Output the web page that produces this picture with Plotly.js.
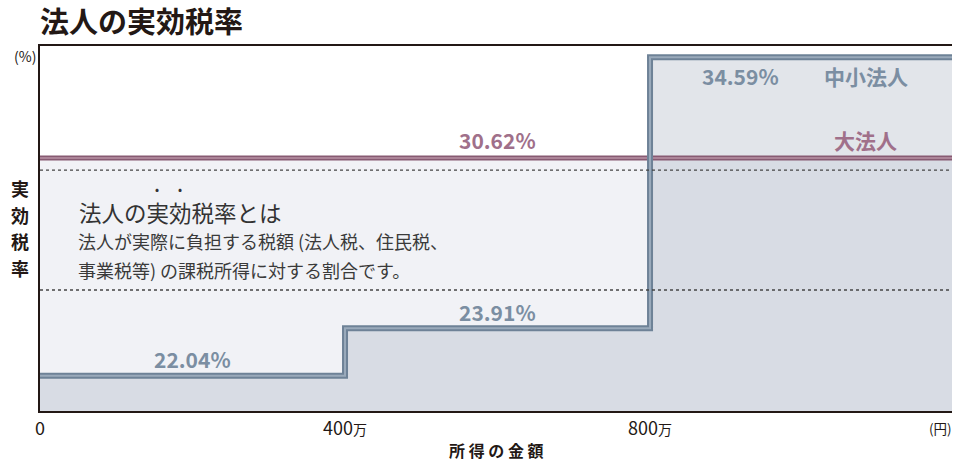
<!DOCTYPE html>
<html><head><meta charset="utf-8">
<script src="https://cdn.plot.ly/plotly-3.0.1.min.js"></script>
<style>html,body{margin:0;padding:0;background:#fff}#chart{width:953px;height:462px}</style>
</head><body><div id="chart"></div>
<script>
// ---- data (income in 万円, rates in %) ----
const thresholds = [0, 400, 800];
const smeRates = [22.04, 23.91, 34.59];
const largeRate = 30.62;
const smeLabel = '中小法人';
const largeLabel = '大法人';
const tickVals = [0, 400, 800];
const tickLabels = ['0', '400<span style="font-size:14px">万</span>', '800<span style="font-size:14px">万</span>'];
const yLabelChars = ['実', '効', '税', '率'];
const noteTitle = '法人の実効税率とは';
const noteLines = ['法人が実際に負担する税額 (法人税、住民税、', '事業税等) の課税所得に対する割合です。'];

const xRange = [0, 1196];
const yRange = [20.65, 35.03];
const xEnd = 1400;
const FONT = '"Noto Sans CJK JP", "Noto Sans", sans-serif';
const BLUE_OUT = '#6e8297', BLUE_IN = '#9aaabb', BLUE_TXT = '#7b8ea2';
const PUR_OUT = '#875a72', PUR_IN = '#b893a6', PUR_TXT = '#a0708a';

const stepX = thresholds.concat([xEnd]);
const stepY = smeRates.concat([smeRates[smeRates.length - 1]]);
const flatX = [xRange[0], xEnd];
const flatY = [largeRate, largeRate];

const traces = [
  {x: flatX, y: flatY, mode: 'lines', line: {width: 0}, fill: 'tozeroy', fillcolor: '#f1f2f6', hoverinfo: 'skip'},
  {x: stepX, y: stepY, mode: 'lines', line: {width: 0, shape: 'hv'}, fill: 'tozeroy', fillcolor: 'rgba(158,168,185,0.3)', hoverinfo: 'skip'},
  {x: flatX, y: flatY, mode: 'lines', line: {width: 5, color: PUR_OUT}, hoverinfo: 'skip'},
  {x: flatX, y: flatY, mode: 'lines', line: {width: 1.5, color: PUR_IN}, hoverinfo: 'skip'},
  {x: stepX, y: stepY, mode: 'lines', line: {width: 6, color: BLUE_OUT, shape: 'hv'}, hoverinfo: 'skip'},
  {x: stepX, y: stepY, mode: 'lines', line: {width: 2, color: BLUE_IN, shape: 'hv'}, hoverinfo: 'skip'}
];

const shapes = [];
// dotted guide lines
[0.660, 0.3315].forEach(py => shapes.push({type: 'line', xref: 'paper', yref: 'paper', x0: 0, x1: 1, y0: py, y1: py,
  line: {color: '#444', width: 1.4, dash: 'dot'}, layer: 'above'}));
// dashed verticals at thresholds
for (let i = 1; i < thresholds.length; i++) {
  shapes.push({type: 'line', xref: 'x', yref: 'y', x0: thresholds[i], x1: thresholds[i], y0: yRange[0], y1: smeRates[i - 1],
    line: {color: '#333', width: 1.5, dash: 'dash'}, layer: 'below'});
}

const ann = [];
const labelFont = (c) => ({family: FONT, size: 21, color: c, weight: 'bold'});
// rate labels
ann.push({x: (thresholds[0] + thresholds[1]) / 2, y: smeRates[0], text: smeRates[0].toFixed(2) + '%', showarrow: false, yanchor: 'middle', yshift: 17, font: labelFont(BLUE_TXT)});
ann.push({x: (thresholds[1] + thresholds[2]) / 2, y: smeRates[1], text: smeRates[1].toFixed(2) + '%', showarrow: false, yanchor: 'middle', yshift: 16, font: labelFont(BLUE_TXT)});
ann.push({x: 918, y: smeRates[2], text: smeRates[2].toFixed(2) + '%', showarrow: false, yanchor: 'middle', yshift: -19, font: labelFont(BLUE_TXT)});
ann.push({x: 1083, y: smeRates[2], text: smeLabel, showarrow: false, yanchor: 'middle', yshift: -19, font: labelFont(BLUE_TXT)});
ann.push({x: 600, y: largeRate, text: largeRate.toFixed(2) + '%', showarrow: false, yanchor: 'middle', yshift: 18, font: labelFont(PUR_TXT)});
ann.push({x: 1083, y: largeRate, text: largeLabel, showarrow: false, yanchor: 'middle', yshift: 18, font: labelFont(PUR_TXT)});

// explanation note
const pxX = (px) => (px - 40) / 912;
const pxY = (py) => (411 - py) / 365;
ann.push({xref: 'paper', yref: 'paper', x: pxX(77), y: pxY(212), xanchor: 'left', yanchor: 'middle', text: noteTitle, showarrow: false, font: {family: FONT, size: 22.5, color: '#333'}});
ann.push({xref: 'paper', yref: 'paper', x: pxX(157), y: pxY(189), xanchor: 'center', yanchor: 'middle', text: '•', showarrow: false, font: {family: FONT, size: 12, color: '#333'}});
ann.push({xref: 'paper', yref: 'paper', x: pxX(180), y: pxY(189), xanchor: 'center', yanchor: 'middle', text: '•', showarrow: false, font: {family: FONT, size: 12, color: '#333'}});
noteLines.forEach((t, i) => ann.push({xref: 'paper', yref: 'paper', x: pxX(76), y: pxY(241 + 29 * i), xanchor: 'left', yanchor: 'middle', text: t, showarrow: false, font: {family: FONT, size: 18, color: '#3a3a3a'}}));

// vertical y label
yLabelChars.forEach((c, i) => ann.push({xref: 'paper', yref: 'paper', x: 0, xshift: -20, y: pxY(188 + 26.7 * i), xanchor: 'center', yanchor: 'middle', text: c, showarrow: false, font: {family: FONT, size: 18, color: '#231815', weight: 'bold'}}));
// (%) and (円)
ann.push({xref: 'paper', yref: 'paper', x: 0, xshift: -2, y: 1, yshift: -10, xanchor: 'right', yanchor: 'middle', text: '(%)', showarrow: false, font: {family: FONT, size: 14, color: '#231815'}});
ann.push({xref: 'paper', yref: 'paper', x: 1, xshift: -12, y: 0, yshift: -17, xanchor: 'center', yanchor: 'middle', text: '(円)', showarrow: false, font: {family: FONT, size: 13.5, color: '#231815'}});
// x axis title
ann.push({xref: 'paper', yref: 'paper', x: 0.5, y: 0, yshift: -39, xanchor: 'center', yanchor: 'middle', text: '所 得 の 金 額', showarrow: false, font: {family: FONT, size: 16, color: '#231815', weight: 'bold'}});

const layout = {
  width: 953, height: 462,
  margin: {l: 40, r: 1, t: 46, b: 51},
  paper_bgcolor: '#fff', plot_bgcolor: '#fff',
  showlegend: false,
  title: {text: '法人の実効税率', xref: 'container', yref: 'container', x: 40 / 953, xanchor: 'left', y: 1 - 23 / 462, yanchor: 'middle',
    font: {family: FONT, size: 29, color: '#231815', weight: 'bold'}},
  xaxis: {range: xRange, showgrid: false, zeroline: false, showline: true, mirror: true, linecolor: '#231815', linewidth: 2,
    tickvals: tickVals, ticktext: tickLabels, ticks: '', tickfont: {family: FONT, size: 18, color: '#231815'}, fixedrange: true},
  yaxis: {range: yRange, showgrid: false, zeroline: false, showline: true, linecolor: '#231815', linewidth: 2,
    showticklabels: false, ticks: '', fixedrange: true},
  shapes: shapes,
  annotations: ann
};

Plotly.newPlot('chart', traces, layout, {displayModeBar: false, staticPlot: true});
</script>
</body></html>
